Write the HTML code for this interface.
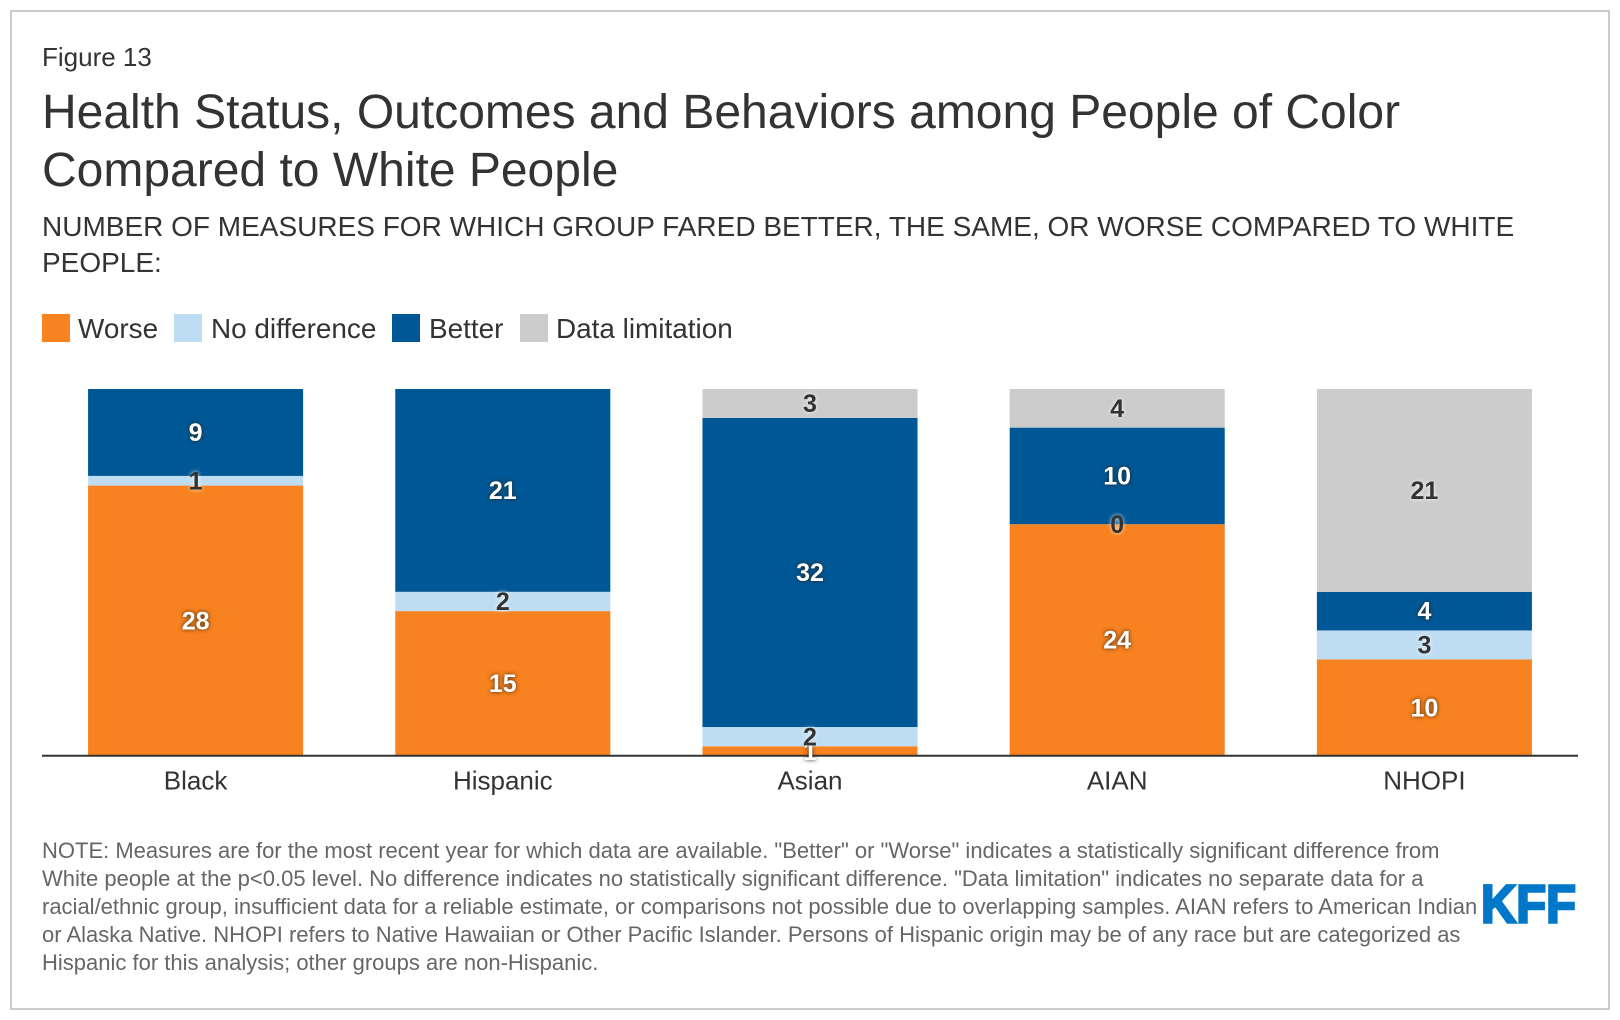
<!DOCTYPE html>
<html lang="en">
<head>
<meta charset="utf-8">
<title>Health Status, Outcomes and Behaviors among People of Color Compared to White People</title>
<style>
  html, body { margin: 0; padding: 0; background: #fff; }
  body { width: 1620px; height: 1020px; overflow: hidden; }
  svg { display: block; font-family: "Liberation Sans", Arial, sans-serif; }
  text { fill: #333; }
  .note { font-size: 22px; fill: #666; }
  .legend-text { font-size: 27.9px; }
  .tick { font-size: 26px; text-anchor: middle; }
  .val { font-size: 25px; font-weight: bold; text-anchor: middle; }
  .val-light { fill: #fff; filter: drop-shadow(0 0 2px rgba(40,30,20,.9)); }
  .val-dark { fill: #333; filter: drop-shadow(0 0 2px rgba(255,255,255,.9)); }
</style>
</head>
<body>
<svg id="fig" width="1620" height="1020" viewBox="0 0 1620 1020">
  <rect x="11" y="11" width="1598" height="998" fill="#fff" stroke="#ccc" stroke-width="2"/>
  <text x="42" y="66" font-size="26">Figure 13</text>
  <text x="42" y="128" font-size="48">Health Status, Outcomes and Behaviors among People of Color</text>
  <text x="42" y="186" font-size="48">Compared to White People</text>
  <text x="42" y="236" font-size="28">NUMBER OF MEASURES FOR WHICH GROUP FARED BETTER, THE SAME, OR WORSE COMPARED TO WHITE</text>
  <text x="42" y="272" font-size="28">PEOPLE:</text>

  <g>
    <rect x="42" y="314" width="28" height="28" fill="#f7821f"/>
    <text x="78" y="338" class="legend-text">Worse</text>
    <rect x="174" y="314" width="28" height="28" fill="#bfddf2"/>
    <text x="211" y="338" class="legend-text">No difference</text>
    <rect x="392" y="314" width="28" height="28" fill="#005795"/>
    <text x="429" y="338" class="legend-text">Better</text>
    <rect x="520" y="314" width="28" height="28" fill="#cccccc"/>
    <text x="556" y="338" class="legend-text">Data limitation</text>
  </g>

  <g id="plot"></g>

  <g>
    <text x="42" y="858" class="note">NOTE: Measures are for the most recent year for which data are available. "Better" or "Worse" indicates a statistically significant difference from</text>
    <text x="42" y="886" class="note">White people at the p&lt;0.05 level. No difference indicates no statistically significant difference. "Data limitation" indicates no separate data for a</text>
    <text x="42" y="914" class="note">racial/ethnic group, insufficient data for a reliable estimate, or comparisons not possible due to overlapping samples. AIAN refers to American Indian</text>
    <text x="42" y="942" class="note">or Alaska Native. NHOPI refers to Native Hawaiian or Other Pacific Islander. Persons of Hispanic origin may be of any race but are categorized as</text>
    <text x="42" y="970" class="note">Hispanic for this analysis; other groups are non-Hispanic.</text>
  </g>

  <text x="1481" y="922.5" font-size="54" font-weight="bold" textLength="95" lengthAdjust="spacingAndGlyphs" style="fill:#0077c8;stroke:#0077c8;stroke-width:2.6">KFF</text>
</svg>

<script>
const categories = ["Black", "Hispanic", "Asian", "AIAN", "NHOPI"];
const worse = [28, 15, 1, 24, 10];
const noDifference = [1, 2, 2, 0, 3];
const better = [9, 21, 32, 10, 4];
const dataLimitation = [0, 0, 3, 4, 21];

const seriesOrder = [
  { key: "worse", values: worse, color: "#f7821f", labelClass: "val-light" },
  { key: "no-difference", values: noDifference, color: "#bfddf2", labelClass: "val-dark" },
  { key: "better", values: better, color: "#005795", labelClass: "val-light" },
  { key: "data-limitation", values: dataLimitation, color: "#cccccc", labelClass: "val-dark" }
];

const plotLeft = 42, plotRight = 1578, plotTop = 389, plotBottom = 756;
const domainMax = 38;
const barRatio = 0.7;
const bandWidth = (plotRight - plotLeft) / categories.length;

function xCenter(i) { return plotLeft + bandWidth * (i + 0.5); }
function yScale(v) { return plotBottom - (v / domainMax) * (plotBottom - plotTop); }

const NS = "http://www.w3.org/2000/svg";
const plot = document.getElementById("plot");
const labelLayer = [];

categories.forEach(function (cat, i) {
  const catSlug = cat.toLowerCase();
  let running = 0;
  const barW = bandWidth * barRatio;
  seriesOrder.forEach(function (s) {
    const v = s.values[i];
    const y0 = yScale(running);
    const y1 = yScale(running + v);
    const rect = document.createElementNS(NS, "rect");
    rect.setAttribute("x", xCenter(i) - barW / 2);
    rect.setAttribute("y", y1);
    rect.setAttribute("width", barW);
    rect.setAttribute("height", y0 - y1);
    rect.setAttribute("fill", s.color);
    
    
    plot.appendChild(rect);

    const skipLabel = v === 0 && s.key !== "no-difference";
    if (!skipLabel) {
      const t = document.createElementNS(NS, "text");
      t.setAttribute("x", xCenter(i));
      t.setAttribute("y", (y0 + y1) / 2 + 8.6);
      t.setAttribute("class", "val " + s.labelClass);
      t.textContent = String(v);
      
      
      labelLayer.push(t);
    }
    running += v;
  });

  const tick = document.createElementNS(NS, "text");
  tick.setAttribute("x", xCenter(i));
  tick.setAttribute("y", plotBottom + 33.5);
  tick.setAttribute("class", "tick");
  tick.textContent = cat;
  
  
  plot.appendChild(tick);
});

const axis = document.createElementNS(NS, "line");
axis.setAttribute("x1", plotLeft);
axis.setAttribute("x2", plotRight);
axis.setAttribute("y1", plotBottom - 0.2);
axis.setAttribute("y2", plotBottom - 0.2);
axis.setAttribute("stroke", "#333");
axis.setAttribute("stroke-width", "2");


plot.appendChild(axis);

labelLayer.forEach(function (t) { plot.appendChild(t); });
</script>
</body>
</html>
